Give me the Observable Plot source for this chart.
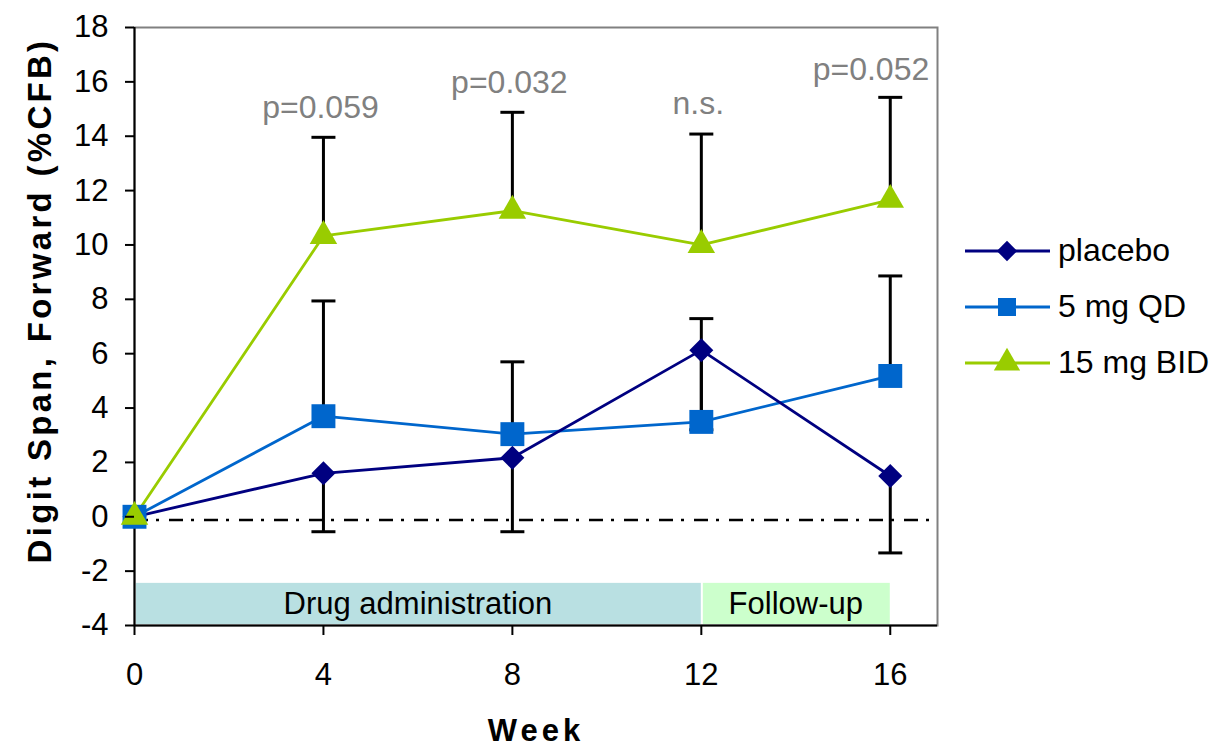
<!DOCTYPE html>
<html>
<head>
<meta charset="utf-8">
<script src="https://cdn.jsdelivr.net/npm/d3@7"></script>
<script src="https://cdn.jsdelivr.net/npm/@observablehq/plot@0.6"></script>
<style>
  body { margin: 0; background: #fff; }
  #wrap { position: relative; width: 1212px; height: 752px; overflow: hidden; font-family: "Liberation Sans", Arial, sans-serif; }
  #legend { position: absolute; left: 0; top: 0; pointer-events: none; }
</style>
</head>
<body>
<div id="wrap"></div>
<script>
// ---------- data ----------
const weeks = [0, 4, 8, 12, 16];
const seriesNames = ["placebo", "5 mg QD", "15 mg BID"];
const placebo      = [0, 1.60, 2.17, 6.13, 1.50];
const placeboLower = [null, -0.55, -0.55, 3.20, -1.33];
const qd5          = [0, 3.70, 3.04, 3.49, 5.18];
const qd5Upper     = [null, 7.94, 5.70, 7.29, 8.86];
const bid15        = [0, 10.33, 11.26, 10.00, 11.66];
const bid15Upper   = [null, 13.96, 14.88, 14.08, 15.43];
const pLabels      = [null, "p=0.059", "p=0.032", "n.s.", "p=0.052"];
const yTicks = [-4, -2, 0, 2, 4, 6, 8, 10, 12, 14, 16, 18];
const xTicks = [0, 4, 8, 12, 16];
const bandLabels = ["Drug administration", "Follow-up"];
const bandStart = [0, 12];
const bandEnd = [12, 16];
const bandTop = -2.45;
const bandBottom = -4;
const refLevel = -0.12;
const yTitle = "Digit Span, Forward (%CFB)";
const xTitle = "Week";

// ---------- styles ----------
const seriesColors = ["#000080", "#0066CC", "#99CC00"];
const seriesSymbols = ["diamond2", "square", "triangle"];
const seriesRadii = [10.8, 13.5, 10.2];
const bandColors = ["#B9E0E2", "#CCFFCC"];
const font = "'Liberation Sans', Arial, sans-serif";

// ---------- tables ----------
const valueSets = [placebo, qd5, bid15];
const boundSets = [placeboLower, qd5Upper, bid15Upper];
const points = seriesNames.map((s, k) => weeks.map((w, i) => ({series: s, week: w, value: valueSets[k][i]})));
const errors = seriesNames.flatMap((s, k) => weeks.map((w, i) => ({series: s, week: w, value: valueSets[k][i], bound: boundSets[k][i]})))
  .filter(d => d.bound != null);
const pData = weeks.map((w, i) => ({week: w, bound: bid15Upper[i], label: pLabels[i]})).filter(d => d.label);
const bands = bandLabels.map((l, i) => ({label: l, start: bandStart[i], end: bandEnd[i], top: bandTop, bottom: bandBottom, k: i}));

const capSymbol = {draw(ctx) { ctx.moveTo(-12, 0); ctx.lineTo(12, 0); }};

const lastWeek = weeks[weeks.length - 1];

const chart = Plot.plot({
  width: 1212,
  height: 752,
  marginLeft: 134,
  marginRight: 275,
  marginTop: 27,
  marginBottom: 127,
  x: {domain: [0, 17]},
  y: {domain: [-4, 18]},
  style: {fontFamily: font, background: "white", color: "black", overflow: "visible"},
  marks: [
    Plot.rect(bands, {x1: "start", x2: "end", y1: "bottom", y2: "top", fill: d => bandColors[d.k], insetLeft: 2, insetBottom: 1}),
    Plot.text(bands, {x: d => (d.start + d.end) / 2, y: d => (d.top + d.bottom) / 2, text: "label", fontSize: 31, fill: "black"}),
    Plot.frame({stroke: "#808080", strokeWidth: 2}),
    Plot.ruleX([0], {stroke: "black", strokeWidth: 2}),
    Plot.ruleY([-4], {stroke: "black", strokeWidth: 2}),
    Plot.ruleY([refLevel], {stroke: "black", strokeWidth: 2.6, strokeDasharray: "14,8,3,10"}),
    Plot.ruleX(errors, {x: "week", y1: "value", y2: "bound", stroke: "black", strokeWidth: 3}),
    Plot.dot(errors, {x: "week", y: "bound", symbol: capSymbol, r: 5, stroke: "black", strokeWidth: 3, fill: "none"}),
    ...[1, 0, 2].map(k => Plot.line(points[k], {x: "week", y: "value", stroke: seriesColors[k], strokeWidth: 2.8})),
    ...[0, 1, 2].map(k => Plot.dot(points[k], {x: "week", y: "value", symbol: seriesSymbols[k], r: seriesRadii[k], fill: seriesColors[k]})),
    Plot.text(pData.filter(d => d.week < lastWeek), {x: "week", y: "bound", text: "label", dy: -30, dx: -3, fontSize: 32, fill: "#808080"}),
    Plot.text(pData.filter(d => d.week === lastWeek), {x: "week", y: "bound", text: "label", dy: -28, dx: 39, textAnchor: "end", fontSize: 32, fill: "#808080"}),
    Plot.axisY({ticks: yTicks, tickSize: 9, tickPadding: 17, tickFormat: d => String(d), fontSize: 31, strokeWidth: 2, label: null}),
    Plot.axisX({ticks: xTicks, tickSize: 10, tickPadding: 27, tickFormat: d => String(d), fontSize: 31, strokeWidth: 2, label: null}),
    Plot.text([yTitle], {text: d => d, frameAnchor: "left", textAnchor: "middle", lineAnchor: "middle", rotate: -90, dx: -94, dy: -26, fontWeight: "bold", fontSize: 33}),
    Plot.text([xTitle], {text: d => d, frameAnchor: "bottom", textAnchor: "middle", lineAnchor: "middle", dy: 106, fontWeight: "bold", fontSize: 31})
  ]
});

const wrap = document.getElementById("wrap");
wrap.appendChild(chart);
chart.querySelectorAll("text").forEach(t => {
  const s = t.textContent;
  if (s === yTitle) { t.setAttribute("letter-spacing", "3.3"); t.style.letterSpacing = "3.3px"; }
  if (s === xTitle) { t.setAttribute("letter-spacing", "4"); t.style.letterSpacing = "4px"; }
});

// ---------- legend ----------
const legendRowY = [251, 307, 363];
const legendSymbols = [d3.symbolDiamond2, d3.symbolSquare, d3.symbolTriangle];
const legendSizes = [23 * 23 / 2, 18 * 18, 300];
const lg = d3.select(wrap).append("svg").attr("id", "legend").attr("width", 1212).attr("height", 752);
seriesNames.forEach((name, k) => {
  const g = lg.append("g").attr("transform", `translate(0,${legendRowY[k]})`);
  g.append("line").attr("x1", 965).attr("x2", 1050).attr("y1", 0).attr("y2", 0)
    .attr("stroke", seriesColors[k]).attr("stroke-width", 2.8);
  g.append("path").attr("d", d3.symbol(legendSymbols[k], legendSizes[k])())
    .attr("transform", "translate(1007,0)").attr("fill", seriesColors[k]);
  g.append("text").attr("x", 1058).attr("y", 10).attr("font-family", font).attr("font-size", 32)
    .attr("fill", "black").text(name);
});
</script>
</body>
</html>
